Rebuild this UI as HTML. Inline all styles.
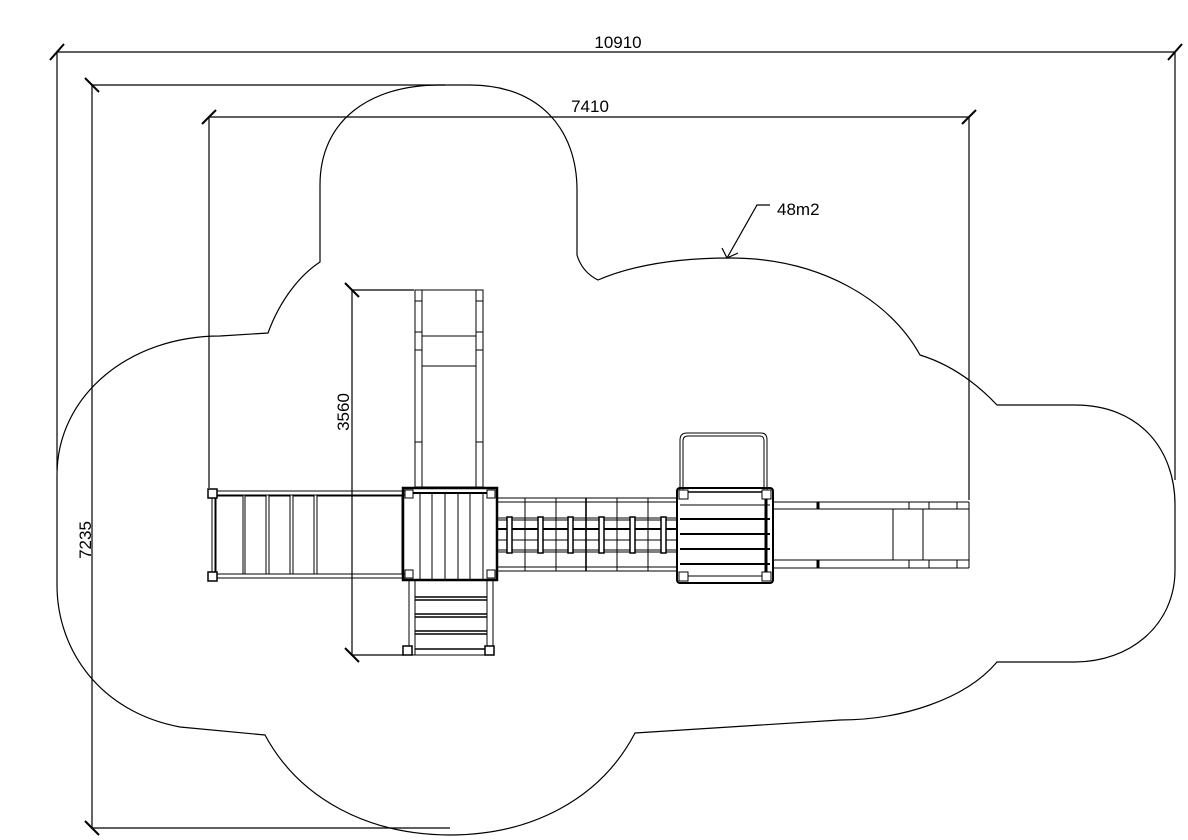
<!DOCTYPE html>
<html><head><meta charset="utf-8"><style>
html,body{margin:0;padding:0;background:#fff;}
svg{display:block;}
text{font-family:"Liberation Sans",sans-serif;font-size:17px;fill:#000;}
</style></head><body>
<svg width="1188" height="840" viewBox="0 0 1188 840" xmlns="http://www.w3.org/2000/svg">
<g fill="none" stroke="#000" stroke-width="1.2">
<!-- cloud -->
<path d="M268 333 C280 300 300 275 320 262 L320 185 C320 120 370 85 440 85 L470 85 C540 85 577 130 577 190 L577 255 Q582 272 598 280 C640 262 690 258 730 258 C820 258 890 300 920 355 Q962 368 997 405 L1075 405 C1140 405 1175 450 1175 505 L1175 570 C1175 625 1130 662 1075 662 L997 662 C965 700 900 720 840 720 L635 733 C600 800 530 835 450 835 C370 835 300 800 265 735 L180 727 C100 712 57 650 57 585 L57 475 C57 395 130 336 220 336 Z"/>
<!-- dimension 10910 -->
<line x1="57" y1="52" x2="1175" y2="52"/>
<line x1="57" y1="52" x2="57" y2="470"/>
<line x1="1175" y1="52" x2="1175" y2="480"/>
<!-- 7235 -->
<line x1="92" y1="85" x2="92" y2="828"/>
<line x1="92" y1="85" x2="445" y2="85"/>
<line x1="92" y1="828" x2="450" y2="828"/>
<!-- 7410 -->
<line x1="209" y1="117" x2="969" y2="117"/>
<line x1="209" y1="117" x2="209" y2="488"/>
<line x1="969" y1="117" x2="969" y2="500"/>
<!-- 3560 -->
<line x1="352" y1="290" x2="352" y2="655"/>
<line x1="352" y1="290" x2="414" y2="290"/>
<line x1="352" y1="655" x2="404" y2="655"/>
<!-- leader -->
<polyline points="727,258 757,205 770,205"/>
<polyline points="722,248 727,258 738,253"/>
</g>
<g stroke="#000" stroke-width="2">
<line x1="50" y1="60" x2="64" y2="44"/><line x1="1168" y1="60" x2="1182" y2="44"/>
<line x1="85" y1="78" x2="99" y2="92"/><line x1="85" y1="821" x2="99" y2="835"/>
<line x1="202" y1="124" x2="216" y2="110"/><line x1="962" y1="124" x2="976" y2="110"/>
<line x1="345" y1="283" x2="359" y2="297"/><line x1="345" y1="648" x2="359" y2="662"/>
</g>
<text x="618" y="48" text-anchor="middle">10910</text>
<text x="590" y="112" text-anchor="middle">7410</text>
<text x="777" y="215">48m2</text>
<text transform="translate(91,540) rotate(-90)" text-anchor="middle">7235</text>
<text transform="translate(349,412) rotate(-90)" text-anchor="middle">3560</text>

<g fill="none" stroke="#000" stroke-width="1">
<!-- left ramp -->
<line x1="212" y1="491" x2="405" y2="491"/><line x1="212" y1="495" x2="405" y2="495"/>
<line x1="212" y1="574" x2="405" y2="574"/><line x1="212" y1="578" x2="405" y2="578"/>
<line x1="212" y1="495" x2="212" y2="574"/><line x1="215" y1="495" x2="215" y2="574"/>
<rect x="216" y="496" width="27" height="78"/><rect x="245" y="496" width="21" height="78"/>
<rect x="269" y="496" width="21" height="78"/><rect x="293" y="496" width="21" height="78"/>
<rect x="317" y="496" width="85" height="78"/>
<rect x="208" y="489" width="9" height="9" fill="#fff" stroke-width="1.5"/>
<rect x="208" y="572" width="9" height="9" fill="#fff" stroke-width="1.5"/>
<!-- top slide -->
<rect x="415" y="290" width="68" height="197"/>
<line x1="422" y1="290" x2="422" y2="487"/><line x1="476" y1="290" x2="476" y2="487"/>
<line x1="422" y1="336" x2="476" y2="336"/><line x1="422" y1="366" x2="476" y2="366"/>
<line x1="415" y1="301" x2="422" y2="301"/><line x1="476" y1="301" x2="483" y2="301"/>
<line x1="415" y1="332" x2="422" y2="332"/><line x1="476" y1="332" x2="483" y2="332"/>
<line x1="415" y1="350" x2="422" y2="350"/><line x1="476" y1="350" x2="483" y2="350"/>
<line x1="415" y1="442" x2="422" y2="442"/><line x1="476" y1="442" x2="483" y2="442"/>
<!-- left tower -->
<rect x="403" y="488" width="94" height="92" stroke-width="2.5"/>
<line x1="405" y1="493" x2="495" y2="493" stroke-width="2"/>
<line x1="420" y1="493" x2="420" y2="580"/><line x1="432" y1="493" x2="432" y2="580"/>
<line x1="445" y1="493" x2="445" y2="580"/><line x1="458" y1="493" x2="458" y2="580"/>
<line x1="470" y1="493" x2="470" y2="580"/><line x1="483" y1="493" x2="483" y2="580"/>
<rect x="405" y="490" width="8" height="8" fill="#fff"/><rect x="487" y="490" width="8" height="8" fill="#fff"/>
<rect x="405" y="570" width="8" height="8" fill="#fff"/><rect x="487" y="570" width="8" height="8" fill="#fff"/>
<!-- bottom stairs -->
<rect x="409" y="580" width="84" height="75"/>
<line x1="415" y1="580" x2="415" y2="655"/><line x1="487" y1="580" x2="487" y2="655"/>
<line x1="415" y1="597" x2="487" y2="597" stroke-width="1.5"/><line x1="415" y1="600" x2="487" y2="600" stroke-width="1.5"/>
<line x1="415" y1="614" x2="487" y2="614" stroke-width="1.5"/><line x1="415" y1="617" x2="487" y2="617" stroke-width="1.5"/>
<line x1="415" y1="631" x2="487" y2="631" stroke-width="1.5"/><line x1="415" y1="634" x2="487" y2="634" stroke-width="1.5"/>
<line x1="415" y1="649" x2="487" y2="649" stroke-width="1.5"/>
<rect x="403" y="646" width="9" height="9" fill="#fff" stroke-width="1.5"/><rect x="485" y="646" width="9" height="9" fill="#fff" stroke-width="1.5"/>
<!-- bridge -->
<line x1="497" y1="498" x2="678" y2="498"/><line x1="497" y1="502" x2="678" y2="502"/>
<line x1="497" y1="567" x2="678" y2="567"/><line x1="497" y1="571" x2="678" y2="571"/>
<line x1="497" y1="518" x2="678" y2="518"/><line x1="497" y1="520" x2="678" y2="520"/>
<line x1="497" y1="529" x2="678" y2="529" stroke-width="2"/>
<line x1="497" y1="540" x2="678" y2="540"/>
<line x1="497" y1="550" x2="678" y2="550"/><line x1="497" y1="552" x2="678" y2="552"/>
<line x1="525" y1="498" x2="525" y2="571"/><line x1="556" y1="498" x2="556" y2="571"/>
<line x1="586" y1="498" x2="586" y2="571" stroke-width="1.6"/><line x1="617" y1="498" x2="617" y2="571"/>
<line x1="648" y1="498" x2="648" y2="571"/>
<g fill="#fff" stroke-width="1.5">
<rect x="507" y="517" width="5" height="36"/><rect x="538" y="517" width="5" height="36"/>
<rect x="568" y="517" width="5" height="36"/><rect x="599" y="517" width="5" height="36"/>
<rect x="630" y="517" width="5" height="36"/><rect x="661" y="517" width="5" height="36"/>
</g>
<!-- right tower -->
<path d="M680 490 L680 440 Q680 433 687 433 L761 433 Q767 433 767 440 L767 490"/>
<path d="M683 490 L683 441 Q683 436 688 436 L760 436 Q764 436 764 441 L764 490"/>
<rect x="677" y="488" width="96" height="95" rx="3" stroke-width="2"/>
<line x1="680" y1="492" x2="770" y2="492" stroke-width="1.5"/>
<line x1="680" y1="505" x2="770" y2="505"/>
<line x1="680" y1="519" x2="770" y2="519" stroke-width="2"/>
<line x1="680" y1="534" x2="770" y2="534" stroke-width="2"/>
<line x1="680" y1="549" x2="770" y2="549" stroke-width="2"/>
<line x1="680" y1="564" x2="770" y2="564" stroke-width="2"/>
<line x1="680" y1="576" x2="770" y2="576"/>
<line x1="766" y1="495" x2="766" y2="575" stroke-width="3"/>
<rect x="679" y="490" width="9" height="9" fill="#fff"/><rect x="762" y="490" width="9" height="9" fill="#fff"/>
<rect x="679" y="572" width="9" height="9" fill="#fff"/><rect x="762" y="572" width="9" height="9" fill="#fff"/>
<!-- right slide -->
<line x1="773" y1="502" x2="969" y2="502"/><line x1="773" y1="509" x2="969" y2="509"/>
<line x1="773" y1="560" x2="969" y2="560"/><line x1="773" y1="568" x2="969" y2="568"/>
<line x1="893" y1="509" x2="893" y2="560"/><line x1="923" y1="509" x2="923" y2="560"/>
<line x1="969" y1="502" x2="969" y2="568"/>
<line x1="818" y1="502" x2="818" y2="509" stroke-width="3"/><line x1="818" y1="560" x2="818" y2="568" stroke-width="3"/>
<line x1="909" y1="502" x2="909" y2="509"/><line x1="909" y1="560" x2="909" y2="568"/>
<line x1="929" y1="502" x2="929" y2="509"/><line x1="929" y1="560" x2="929" y2="568"/>
<line x1="957" y1="502" x2="957" y2="509"/><line x1="957" y1="560" x2="957" y2="568"/>
</g>
</svg>
</body></html>
